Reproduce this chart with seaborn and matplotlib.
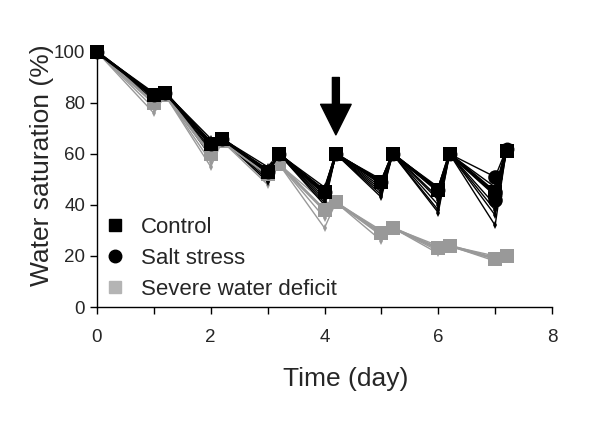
import numpy as np
import pandas as pd
import matplotlib
matplotlib.use("Agg")
import matplotlib.pyplot as plt
import seaborn as sns
from matplotlib.lines import Line2D

# --- DATA ---
times = [0, 1, 1.2, 2, 2.2, 3, 3.2, 4, 4.2, 5, 5.2, 6, 6.2, 7, 7.2]

# group means
control_mean = [100, 83, 84, 64, 66, 53, 60, 45, 60, 49, 60, 46, 60, 45, 61]
salt_mean = [100, 83, 84, 64, 66, 53, 60, 45, 60, 49, 60, 46, 60, 44, 62]
deficit_mean = [100, 80, 83, 60, 65, 52, 56, 38, 41, 29, 31, 23, 24, 19, 20]
salt_circles_day7 = [51, 45, 42]

# individual plants
control_plants = {
    "c1": [100, 84, 84, 66, 66, 55, 60, 47, 60, 50, 60, 47, 60, 47, 62],
    "c2": [100, 83, 84, 64, 66, 53, 60, 45, 60, 48, 60, 45, 60, 44, 61],
    "c3": [100, 82, 84, 62, 66, 52, 60, 43, 60, 46, 60, 42, 60, 40, 61],
    "c4": [100, 81, 84, 61, 66, 51, 60, 42, 60, 44, 60, 38, 60, 36, 61],
}
salt_plants = {
    "s1": [100, 83, 84, 65, 66, 54, 60, 46, 60, 49, 60, 46, 60, 51, 62],
    "s2": [100, 82, 84, 63, 66, 52, 60, 44, 60, 47, 60, 43, 60, 45, 62],
    "s3": [100, 81, 84, 60, 66, 50, 60, 41, 60, 45, 60, 40, 60, 38, 62],
    "s4": [100, 80, 84, 59, 66, 49, 60, 40, 60, 43, 60, 37, 60, 32, 62],
}
deficit_plants = {
    "w1": [100, 82, 83, 62, 65, 54, 56, 41, 41, 30, 31, 24, 24, 20, 20],
    "w2": [100, 80, 83, 60, 65, 52, 56, 38, 41, 29, 31, 23, 24, 19, 20],
    "w3": [100, 78, 83, 57, 65, 50, 56, 35, 41, 28, 31, 22, 24, 19, 20],
    "w4": [100, 76, 83, 55, 65, 48, 56, 31, 41, 26, 31, 21, 24, 18, 20],
}

x_ticks = [0, 2, 4, 6, 8]
y_ticks = [0, 20, 40, 60, 80, 100]
arrow_day = 4.2

BLACK = "#000000"
GRAY = "#999999"
LIGHT = "#b4b4b4"


def plants_frame(plants):
    rows = []
    for name, vals in plants.items():
        for t, v in zip(times, vals):
            rows.append({"plant": name, "t": t, "v": v})
    return pd.DataFrame(rows)


sns.set_style("white")
plt.rcParams["font.family"] = ["Liberation Sans", "DejaVu Sans"]

fig = plt.figure(figsize=(6, 4.26), dpi=100)
ax = fig.add_axes([97 / 600, 1 - 307 / 426, 455 / 600, 255 / 426])

# individual plants (thin lines, small diamonds)
for plants, col in [(deficit_plants, GRAY), (salt_plants, BLACK), (control_plants, BLACK)]:
    df = plants_frame(plants)
    sns.lineplot(data=df, x="t", y="v", units="plant", estimator=None, ax=ax,
                 color=col, lw=1, marker="d", markersize=4, markeredgewidth=0,
                 clip_on=False)

# means (salt circles sit under the control squares)
for vals, col, mk in [(deficit_mean, GRAY, "s"), (salt_mean, BLACK, "o"), (control_mean, BLACK, "s")]:
    sns.lineplot(x=times, y=vals, ax=ax, color=col, lw=2, marker=mk,
                 markersize=10, markeredgewidth=0, clip_on=False, zorder=3)
sns.scatterplot(x=[7] * len(salt_circles_day7), y=salt_circles_day7, ax=ax,
                color=BLACK, marker="o", s=110, linewidth=0, zorder=4)

# arrow marking the switch
ax.annotate("", xy=(arrow_day, 67.5), xytext=(arrow_day, 90),
            arrowprops=dict(facecolor="black", edgecolor="black",
                            width=5, headwidth=22, headlength=22))

ax.set_xlim(0, 8)
ax.set_ylim(0, 100)
ax.set_xticks(x_ticks)
ax.set_xticks([1, 3, 5, 7], minor=True)
ax.set_yticks(y_ticks)
sns.despine(ax=ax)
for s in ["left", "bottom"]:
    ax.spines[s].set_color("black")
    ax.spines[s].set_linewidth(1)
ax.tick_params(axis="both", which="both", direction="out", length=5, width=1,
               color="black", labelsize=13.5, bottom=True, left=True)
ax.tick_params(axis="x", pad=11)

ax.set_xlabel("Time (day)", fontsize=19)
ax.set_ylabel("Water saturation (%)", fontsize=19)
ax.xaxis.set_label_coords(0.547, -0.235)
ax.yaxis.set_label_coords(-0.095, 0.557)

handles = [
    Line2D([0], [0], ls="none", marker="s", color=BLACK, markersize=9, label="Control"),
    Line2D([0], [0], ls="none", marker="o", color=BLACK, markersize=9, label="Salt stress"),
    Line2D([0], [0], ls="none", marker="s", color=LIGHT, markersize=9, label="Severe water deficit"),
]
ax.legend(handles=handles, loc="lower left", bbox_to_anchor=(-0.01, -0.025),
          frameon=False, fontsize=16, handlelength=0.8, handletextpad=0.8,
          labelspacing=0.45, borderaxespad=0.2)

fig.savefig("out.png", dpi=100)
